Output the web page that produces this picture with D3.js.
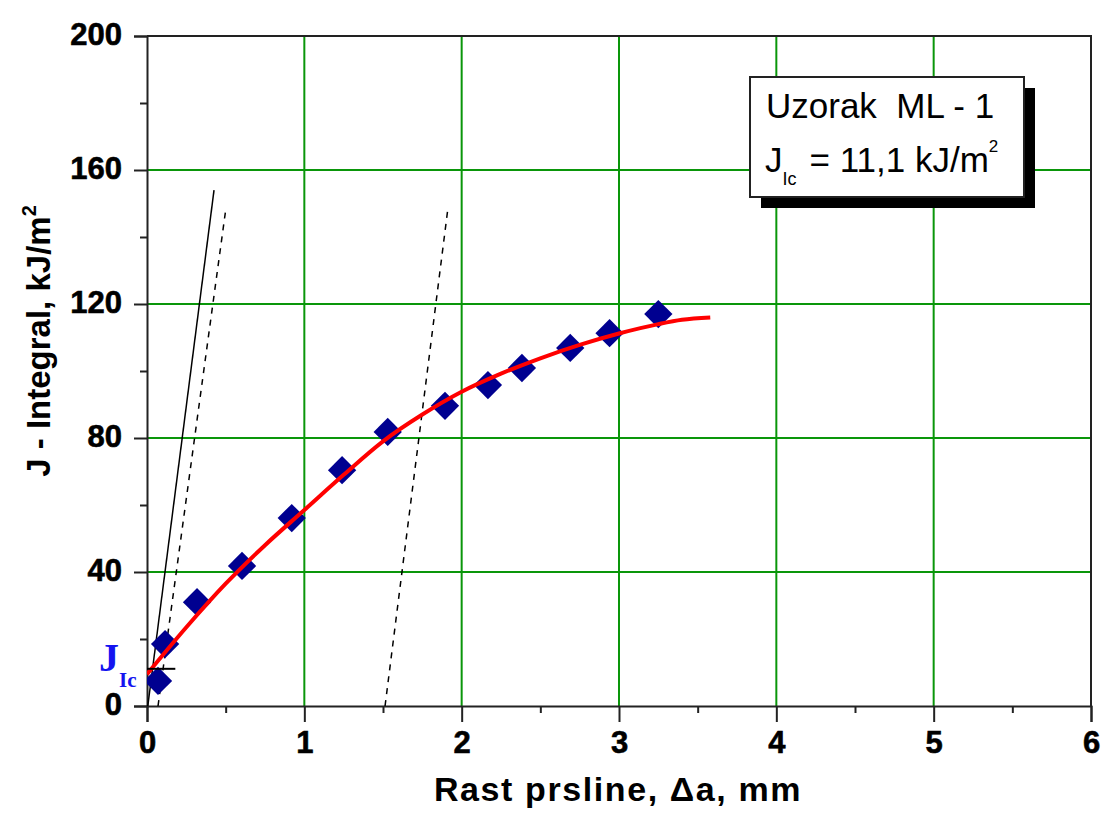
<!DOCTYPE html>
<html>
<head>
<meta charset="utf-8">
<script src="https://cdn.jsdelivr.net/npm/d3@7"></script>
<style>
    body { margin: 0; background: #fff; }
    svg { display: block; }
    .tick text { font-family: "Liberation Sans", Arial, sans-serif; font-weight: bold; }
</style>
</head>
<body>
<svg id="chart"></svg>
<script>
// measured points (crack growth, mm / J, kJ/m2)
const pointsX = [0.07, 0.115, 0.318, 0.604, 0.92, 1.24, 1.53, 1.894, 2.167, 2.383, 2.69, 2.94, 3.25];
const pointsJ = [7.5, 18.5, 31, 41.8, 56.1, 70.4, 81.8, 89.6, 95.8, 100.9, 106.9, 111.3, 117];

// fitted R-curve
const fitX = [0, 0.25, 0.5, 0.75, 1, 1.25, 1.5, 1.75, 2, 2.25, 2.5, 2.75, 3, 3.25, 3.4, 3.58];
const fitJ = [9.5, 23.5, 36.5, 48, 58.5, 69, 79, 87, 93.8, 99.2, 103.8, 107.8, 111.2, 114, 115.3, 116];

// blunting line and the two offset lines (end points)
const bluntX = [0.005, 0.426];
const bluntJ = [0, 154];
const offset1X = [0.07, 0.502];
const offset1J = [0, 148.7];
const offset2X = [1.513, 1.913];
const offset2J = [0, 148.7];

const jIc = 11.1;

const xTicks = [0, 1, 2, 3, 4, 5, 6];
const xMinor = [0.5, 1.5, 2.5, 3.5, 4.5, 5.5];
const yTicks = [0, 40, 80, 120, 160, 200];
const yMinor = [20, 60, 100, 140, 180];

const W = 1101, H = 813;
const margin = { left: 147, top: 36, right: 10, bottom: 107 };
const width = W - margin.left - margin.right;
const height = H - margin.top - margin.bottom;

const svg = d3.select("#chart").attr("width", W).attr("height", H);

const x = d3.scaleLinear().domain([0, 6]).range([0, width]);
const y = d3.scaleLinear().domain([0, 200]).range([height, 0]);

svg.append("defs").append("clipPath").attr("id", "plotClip")
    .append("rect").attr("width", width).attr("height", height);

const chart = svg.append("g")
    .attr("transform", `translate(${margin.left}, ${margin.top})`);

// green grid
const grid = chart.append("g").attr("class", "grid");
grid.selectAll("line.gx")
    .data(xTicks.slice(1, -1))
    .join(enter => enter.append("line").attr("class", "gx"))
        .attr("x1", d => x(d)).attr("x2", d => x(d))
        .attr("y1", 0).attr("y2", height);
grid.selectAll("line.gy")
    .data(yTicks.slice(1, -1))
    .join(enter => enter.append("line").attr("class", "gy"))
        .attr("x1", 0).attr("x2", width)
        .attr("y1", d => y(d)).attr("y2", d => y(d));
grid.selectAll("line")
    .attr("stroke", "#0a960a")
    .attr("stroke-width", 2);

// frame top / right
chart.append("path")
    .attr("d", `M0,0H${width}V${height}`)
    .attr("fill", "none")
    .attr("stroke", "#222")
    .attr("stroke-width", 2);

// axes
const xAxis = chart.append("g")
    .attr("transform", `translate(0, ${height})`)
    .call(d3.axisBottom(x).tickValues(xTicks).tickSize(16).tickPadding(9).tickFormat(d3.format("d")));
const xAxisMinor = chart.append("g")
    .attr("transform", `translate(0, ${height})`)
    .call(d3.axisBottom(x).tickValues(xMinor).tickSize(7).tickFormat(""));
const yAxis = chart.append("g")
    .call(d3.axisLeft(y).tickValues(yTicks).tickSize(13).tickPadding(12).tickFormat(d3.format("d")));
const yAxisMinor = chart.append("g")
    .call(d3.axisLeft(y).tickValues(yMinor).tickSize(7).tickFormat(""));

xAxisMinor.select(".domain").remove();
yAxisMinor.select(".domain").remove();
chart.selectAll(".domain, .tick line")
    .attr("stroke", "#222")
    .attr("stroke-width", 2);
chart.selectAll(".tick text")
    .attr("font-size", 31)
    .attr("fill", "#000")
    .attr("stroke", "#000")
    .attr("stroke-width", 0.6);
yAxis.selectAll(".tick text").attr("dy", "0.28em");

// blunting / offset lines
const line = d3.line().x(d => x(d[0])).y(d => y(d[1]));
const plot = chart.append("g").attr("clip-path", "url(#plotClip)");

plot.append("path")
    .datum(d3.zip(bluntX, bluntJ))
    .attr("d", line)
    .attr("fill", "none")
    .attr("stroke", "#000")
    .attr("stroke-width", 1.5);
[d3.zip(offset1X, offset1J), d3.zip(offset2X, offset2J)].forEach(pts => {
    plot.append("path")
        .datum(pts)
        .attr("d", line)
        .attr("fill", "none")
        .attr("stroke", "#000")
        .attr("stroke-width", 1.5)
        .attr("stroke-dasharray", "6,6");
});

// data points
plot.selectAll("path.pt")
    .data(d3.zip(pointsX, pointsJ))
    .join("path")
        .attr("class", "pt")
        .attr("d", d3.symbol(d3.symbolSquare, 400))
        .attr("transform", d => `translate(${x(d[0])}, ${y(d[1])}) rotate(45)`)
        .attr("fill", "#000090");

// fit curve
plot.append("path")
    .datum(d3.zip(fitX, fitJ))
    .attr("d", d3.line().x(d => x(d[0])).y(d => y(d[1])).curve(d3.curveMonotoneX))
    .attr("fill", "none")
    .attr("stroke", "#ff0000")
    .attr("stroke-width", 4);

// J_Ic mark
chart.append("line")
    .attr("x1", 0).attr("x2", x(0.18))
    .attr("y1", y(jIc)).attr("y2", y(jIc))
    .attr("stroke", "#000")
    .attr("stroke-width", 2);
const jl = svg.append("text")
    .attr("x", 99).attr("y", 671)
    .attr("font-family", "Liberation Serif, serif")
    .attr("font-weight", "bold")
    .attr("fill", "#1414f0");
jl.append("tspan").attr("font-size", 40).text("J");
jl.append("tspan").attr("font-size", 21).attr("dy", 16).text("Ic");

// axis titles
svg.append("text")
    .attr("x", margin.left + x(3) - 1)
    .attr("y", 801)
    .attr("text-anchor", "middle")
    .attr("font-family", "Liberation Sans, Arial, sans-serif")
    .attr("font-weight", "bold")
    .attr("font-size", 34)
    .attr("letter-spacing", 1.6)
    .text("Rast prsline, \u0394a, mm");

const yt = svg.append("text")
    .attr("transform", "translate(50, 341) rotate(-90)")
    .attr("text-anchor", "middle")
    .attr("font-family", "Liberation Sans, Arial, sans-serif")
    .attr("font-weight", "bold")
    .attr("font-size", 33);
yt.append("tspan").text("J - Integral, kJ/m");
yt.append("tspan").attr("font-size", 20).attr("dy", -14).text("2");

// legend box with shadow
const box = svg.append("g");
box.append("rect")
    .attr("x", 761).attr("y", 88).attr("width", 274).attr("height", 120)
    .attr("fill", "#000");
box.append("rect")
    .attr("x", 750).attr("y", 77).attr("width", 274).attr("height", 120)
    .attr("fill", "#fff")
    .attr("stroke", "#222")
    .attr("stroke-width", 2);
box.append("text")
    .attr("x", 766).attr("y", 118)
    .attr("font-family", "Liberation Sans, Arial, sans-serif")
    .attr("font-size", 35)
    .attr("xml:space", "preserve")
    .text("Uzorak  ML - 1");
const l2 = box.append("text")
    .attr("x", 765).attr("y", 172)
    .attr("font-family", "Liberation Sans, Arial, sans-serif")
    .attr("font-size", 35);
l2.append("tspan").text("J");
l2.append("tspan").attr("font-size", 18).attr("dy", 13).text("Ic");
l2.append("tspan").attr("dy", -13).attr("dx", 13).text("= 11,1 kJ/m");
l2.append("tspan").attr("font-size", 17).attr("dy", -20).text("2");
</script>
</body>
</html>
